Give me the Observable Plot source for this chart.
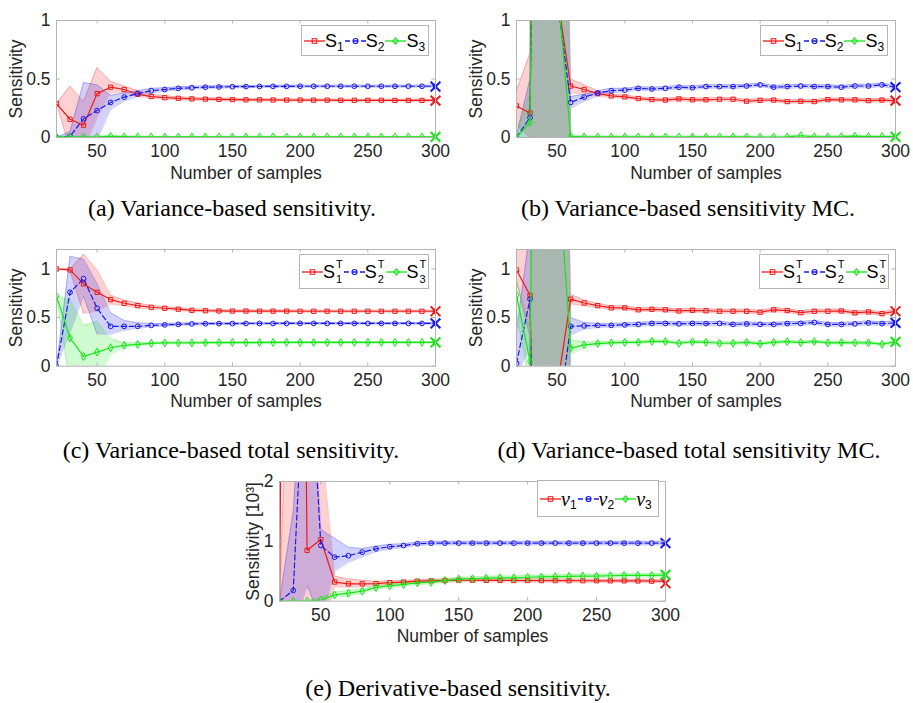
<!DOCTYPE html>
<html><head><meta charset="utf-8">
<script src="https://cdn.jsdelivr.net/npm/d3@7"></script>
<script src="https://cdn.jsdelivr.net/npm/@observablehq/plot@0.6"></script>
<style>
body{margin:0;background:#fff;}
#fig{position:relative;width:913px;height:703px;overflow:hidden;font-family:"Liberation Sans",Arial,sans-serif;}
.pl{position:absolute;}
.cap{position:absolute;width:500px;font-family:"Liberation Serif","Times New Roman",serif;font-size:24px;color:#000;text-align:center;white-space:nowrap;line-height:26px;}
.leg{position:absolute;border:1px solid #b5b5b5;background:#fff;display:flex;align-items:center;padding:0 2px;box-sizing:border-box;color:#000;}
.leg .it{display:flex;align-items:center;margin-right:1px;}
.leg .lbl{font-size:18px;line-height:18px;white-space:nowrap;display:inline-flex;align-items:center;}
.leg sub{font-size:12px;position:relative;top:6px;line-height:12px;}
.leg .ss{display:inline-flex;flex-direction:column;font-size:11px;line-height:15px;margin-left:1px;}
.leg .nu{font-family:"Liberation Serif",serif;font-style:italic;font-size:20px;}
</style></head>
<body><div id="fig"></div>
<script>
const xs = [20,30,40,50,60,70,80,90,100,110,120,130,140,150,160,170,180,190,200,210,220,230,240,250,260,270,280,290,300];
const xTicks = [50,100,150,200,250,300];
const yTicksA = [0,0.5,1];
const yTicksC = [0,0.5,1];
const yTicksE = [0,1,2];

// (a) variance-based sensitivity
const A_S1    = [0.29,0.156,0.105,0.375,0.43,0.41,0.37,0.35,0.34,0.335,0.33,0.328,0.326,0.324,0.322,0.322,0.321,0.32,0.32,0.319,0.319,0.318,0.318,0.318,0.318,0.317,0.317,0.317,0.317];
const A_S1_lo = [0.29,-0.1,-0.1,0.17,0.38,0.385,0.35,0.335,0.327,0.323,0.319,0.317,0.316,0.315,0.313,0.313,0.312,0.311,0.311,0.31,0.31,0.31,0.31,0.31,0.31,0.309,0.309,0.309,0.309];
const A_S1_hi = [0.29,0.44,0.31,0.6,0.48,0.44,0.4,0.37,0.355,0.348,0.342,0.34,0.337,0.334,0.332,0.331,0.33,0.329,0.329,0.328,0.328,0.327,0.327,0.327,0.326,0.326,0.326,0.326,0.326];
const A_S2    = [0.0,0.01,0.16,0.23,0.30,0.345,0.375,0.40,0.41,0.42,0.425,0.43,0.432,0.434,0.435,0.436,0.437,0.437,0.438,0.438,0.438,0.438,0.438,0.438,0.438,0.438,0.438,0.438,0.438];
const A_S2_lo = [0,0,-0.05,-0.02,0.24,0.31,0.35,0.38,0.395,0.406,0.413,0.419,0.422,0.424,0.426,0.427,0.428,0.428,0.429,0.429,0.429,0.429,0.429,0.429,0.429,0.429,0.429,0.429,0.429];
const A_S2_hi = [0,0.05,0.47,0.45,0.36,0.38,0.40,0.42,0.425,0.434,0.437,0.441,0.442,0.444,0.444,0.445,0.446,0.446,0.447,0.447,0.447,0.447,0.447,0.447,0.447,0.447,0.447,0.447,0.447];
const A_S3    = [0.005,0.006,0.004,0.005,0.01,0.007,0.006,0.005,0.005,0.005,0.005,0.005,0.005,0.005,0.005,0.005,0.005,0.005,0.005,0.005,0.005,0.005,0.005,0.005,0.005,0.005,0.005,0.005,0.005];
const A_S3_lo = [0,0,-0.002,-0.002,0.003,0.001,0,0,0,0,0,0,0,0,0,0,0,0,0,0,0,0,0,0,0,0,0,0,0];
const A_S3_hi = [0.01,0.012,0.01,0.012,0.017,0.013,0.012,0.01,0.01,0.01,0.01,0.01,0.01,0.01,0.01,0.01,0.01,0.01,0.01,0.01,0.01,0.01,0.01,0.01,0.01,0.01,0.01,0.01,0.01];
const A_ref = [0.315,0.435,0.005];

// (b) variance-based sensitivity MC
const B_S1    = [0.27,0.21,11,1.22,0.44,0.41,0.375,0.355,0.347,0.333,0.324,0.32,0.33,0.322,0.322,0.327,0.327,0.31,0.318,0.32,0.307,0.31,0.307,0.324,0.322,0.322,0.315,0.32,0.312];
const B_S1_lo = [0.1,0.0,-15,-5,0.38,0.375,0.355,0.34,0.333,0.318,0.31,0.305,0.315,0.307,0.308,0.312,0.313,0.296,0.303,0.305,0.292,0.296,0.293,0.31,0.307,0.307,0.301,0.305,0.297];
const B_S1_hi = [0.4,0.72,20,6,0.5,0.45,0.4,0.37,0.362,0.348,0.338,0.335,0.345,0.337,0.337,0.342,0.342,0.324,0.333,0.334,0.322,0.325,0.322,0.338,0.336,0.337,0.33,0.335,0.327];
const B_S2    = [0.0,0.17,10,1.18,0.30,0.345,0.38,0.40,0.405,0.42,0.415,0.42,0.43,0.425,0.435,0.435,0.435,0.44,0.45,0.43,0.435,0.44,0.435,0.435,0.43,0.44,0.44,0.45,0.43];
const B_S2_lo = [-0.02,0.0,-15,-5,0.25,0.31,0.355,0.38,0.39,0.405,0.4,0.405,0.415,0.41,0.42,0.42,0.42,0.425,0.435,0.415,0.42,0.425,0.42,0.42,0.415,0.425,0.425,0.435,0.415];
const B_S2_hi = [0.02,0.5,20,6,0.35,0.37,0.4,0.42,0.42,0.435,0.43,0.435,0.445,0.44,0.45,0.45,0.45,0.455,0.465,0.445,0.45,0.455,0.45,0.45,0.445,0.455,0.455,0.465,0.445];
const B_S3    = [0.0,0.13,11,1.31,0.01,0.006,0.005,0.005,0.006,0.005,0.005,0.005,0.004,0.005,0.005,0.005,0.005,0.005,0.004,0.004,0.005,0.015,0.006,0.006,0.007,0.012,0.008,0.008,0.007];
const B_S3_lo = [-0.02,0.0,-15,-5,0.002,-0.002,-0.003,-0.003,-0.002,-0.003,-0.003,-0.003,-0.004,-0.003,-0.003,-0.003,-0.003,-0.003,-0.004,-0.004,-0.003,0.007,-0.002,-0.002,-0.001,0.004,0,0,-0.001];
const B_S3_hi = [0.02,0.4,20,6,0.018,0.014,0.013,0.013,0.014,0.013,0.013,0.013,0.012,0.013,0.013,0.013,0.013,0.013,0.012,0.012,0.013,0.023,0.014,0.014,0.015,0.02,0.016,0.016,0.015];
const B_ref = [0.315,0.43,0.005];

// (c) variance-based total sensitivity
const C_S1    = [1.0,0.99,0.846,0.76,0.685,0.647,0.623,0.606,0.596,0.586,0.575,0.57,0.568,0.567,0.567,0.566,0.566,0.566,0.565,0.565,0.565,0.565,0.565,0.565,0.565,0.565,0.565,0.565,0.565];
const C_S1_lo = [1.0,0.98,0.54,0.57,0.64,0.62,0.6,0.59,0.582,0.573,0.563,0.558,0.556,0.555,0.555,0.555,0.555,0.555,0.554,0.554,0.554,0.554,0.554,0.554,0.554,0.554,0.554,0.554,0.554];
const C_S1_hi = [1.0,1.0,1.15,0.99,0.73,0.68,0.65,0.625,0.612,0.6,0.588,0.582,0.58,0.579,0.578,0.577,0.577,0.577,0.576,0.576,0.576,0.576,0.576,0.576,0.576,0.576,0.576,0.576,0.576];
const C_S2    = [0.0,0.76,0.9,0.595,0.41,0.41,0.41,0.42,0.425,0.43,0.435,0.437,0.438,0.438,0.439,0.439,0.439,0.44,0.44,0.44,0.44,0.44,0.44,0.44,0.44,0.44,0.44,0.44,0.44];
const C_S2_lo = [0.0,0.35,0.72,0.33,0.33,0.37,0.39,0.405,0.412,0.418,0.424,0.427,0.428,0.429,0.43,0.43,0.43,0.431,0.431,0.431,0.431,0.431,0.431,0.431,0.431,0.431,0.431,0.431,0.431];
const C_S2_hi = [0.0,1.13,1.1,0.85,0.55,0.47,0.445,0.44,0.44,0.443,0.446,0.447,0.448,0.448,0.449,0.449,0.449,0.449,0.449,0.449,0.449,0.449,0.449,0.449,0.449,0.449,0.449,0.449,0.449];
const C_S3    = [0.72,0.29,0.10,0.145,0.19,0.215,0.225,0.235,0.24,0.24,0.24,0.242,0.242,0.243,0.243,0.243,0.244,0.244,0.244,0.244,0.244,0.244,0.244,0.245,0.245,0.245,0.245,0.245,0.245];
const C_S3_lo = [0.72,-0.18,-0.2,-0.15,0.12,0.19,0.21,0.225,0.23,0.23,0.23,0.232,0.232,0.233,0.233,0.233,0.234,0.234,0.234,0.234,0.234,0.234,0.234,0.235,0.235,0.235,0.235,0.235,0.235];
const C_S3_hi = [0.72,0.68,0.42,0.46,0.28,0.24,0.24,0.245,0.25,0.25,0.25,0.252,0.252,0.253,0.253,0.253,0.254,0.254,0.254,0.254,0.254,0.254,0.254,0.255,0.255,0.255,0.255,0.255,0.255];
const C_ref = [0.565,0.44,0.245];

// (d) variance-based total sensitivity MC
const D_S1    = [0.99,0.73,-8,-0.22,0.69,0.65,0.623,0.60,0.60,0.58,0.585,0.58,0.568,0.575,0.57,0.565,0.565,0.565,0.555,0.58,0.572,0.55,0.565,0.565,0.568,0.548,0.558,0.54,0.565];
const D_S1_lo = [0.88,0.3,-20,-8,0.64,0.62,0.6,0.58,0.58,0.56,0.565,0.56,0.548,0.555,0.55,0.545,0.545,0.545,0.535,0.56,0.552,0.53,0.545,0.545,0.548,0.528,0.538,0.52,0.545];
const D_S1_hi = [1.3,1.4,20,8,0.74,0.68,0.645,0.62,0.62,0.6,0.605,0.6,0.588,0.595,0.59,0.585,0.585,0.585,0.575,0.6,0.592,0.57,0.585,0.585,0.588,0.568,0.578,0.56,0.585];
const D_S2    = [0.03,0.69,-8,-0.62,0.41,0.415,0.42,0.42,0.425,0.43,0.44,0.44,0.435,0.44,0.438,0.44,0.43,0.435,0.43,0.43,0.438,0.44,0.45,0.43,0.43,0.435,0.445,0.438,0.445];
const D_S2_lo = [-0.1,0.2,-20,-8,0.32,0.38,0.4,0.4,0.405,0.41,0.42,0.42,0.415,0.42,0.418,0.42,0.41,0.415,0.41,0.41,0.418,0.42,0.43,0.41,0.41,0.415,0.425,0.418,0.425];
const D_S2_hi = [0.35,1.4,20,8,0.5,0.45,0.44,0.44,0.445,0.45,0.46,0.46,0.455,0.46,0.458,0.46,0.45,0.455,0.45,0.45,0.458,0.46,0.47,0.45,0.45,0.455,0.465,0.458,0.465];
const D_S3    = [0.73,0.05,12,2.2,0.185,0.22,0.233,0.24,0.245,0.245,0.256,0.253,0.236,0.25,0.246,0.236,0.236,0.245,0.23,0.245,0.253,0.243,0.253,0.24,0.243,0.24,0.24,0.226,0.25];
const D_S3_lo = [0.55,-0.2,-20,-8,0.12,0.19,0.215,0.225,0.23,0.23,0.24,0.238,0.221,0.235,0.231,0.221,0.221,0.23,0.215,0.23,0.238,0.228,0.238,0.225,0.228,0.225,0.225,0.211,0.235];
const D_S3_hi = [0.88,0.4,20,8,0.27,0.25,0.25,0.255,0.26,0.26,0.271,0.268,0.251,0.265,0.261,0.251,0.251,0.26,0.245,0.26,0.268,0.258,0.268,0.255,0.258,0.255,0.255,0.241,0.265];
const D_ref = [0.565,0.445,0.25];

// (e) derivative-based sensitivity [10^3]
const E_N1    = [0.0,25,0.85,1.03,0.32,0.29,0.29,0.295,0.31,0.32,0.335,0.34,0.345,0.35,0.35,0.348,0.347,0.346,0.345,0.345,0.344,0.343,0.342,0.341,0.34,0.34,0.338,0.335,0.335];
const E_N1_lo = [0.0,-5,-2,-0.5,0.24,0.23,0.24,0.26,0.28,0.295,0.31,0.315,0.32,0.325,0.325,0.323,0.322,0.321,0.32,0.32,0.319,0.318,0.317,0.316,0.315,0.315,0.313,0.31,0.31];
const E_N1_hi = [0.0,6.7,8,2.74,0.42,0.37,0.35,0.33,0.34,0.345,0.36,0.365,0.37,0.375,0.375,0.373,0.372,0.371,0.37,0.37,0.369,0.368,0.367,0.366,0.365,0.365,0.363,0.36,0.36];
const E_N2    = [0.0,0.18,5,0.93,0.735,0.76,0.82,0.875,0.91,0.93,0.96,0.97,0.97,0.97,0.97,0.97,0.97,0.97,0.97,0.97,0.97,0.97,0.97,0.97,0.97,0.97,0.97,0.97,0.97];
const E_N2_lo = [0.0,-0.5,0.26,-0.3,0.5,0.65,0.74,0.83,0.87,0.9,0.93,0.94,0.94,0.94,0.94,0.94,0.94,0.94,0.94,0.94,0.94,0.94,0.94,0.94,0.94,0.94,0.94,0.94,0.94];
const E_N2_hi = [0.0,1.5,5.2,1.2,1.05,0.9,0.88,0.92,0.95,0.96,0.99,1.0,1.0,1.0,1.0,1.0,1.0,1.0,1.0,1.0,1.0,1.0,1.0,1.0,1.0,1.0,1.0,1.0,1.0];
const E_N3    = [0.0,0.0,0.0,0.02,0.105,0.134,0.167,0.23,0.256,0.28,0.306,0.318,0.345,0.37,0.375,0.385,0.39,0.39,0.4,0.405,0.41,0.415,0.42,0.42,0.425,0.43,0.43,0.43,0.435];
const E_N3_lo = [0,0,-0.01,-0.01,0.06,0.09,0.13,0.2,0.225,0.25,0.275,0.29,0.315,0.34,0.345,0.355,0.36,0.36,0.37,0.375,0.38,0.385,0.39,0.39,0.395,0.4,0.4,0.4,0.405];
const E_N3_hi = [0,0.01,0.01,0.06,0.15,0.18,0.2,0.26,0.287,0.31,0.337,0.348,0.375,0.4,0.405,0.415,0.42,0.42,0.43,0.435,0.44,0.445,0.45,0.45,0.455,0.46,0.46,0.46,0.465];
const E_ref = [0.3,0.97,0.44];

const RED = "#f01818", BLUE = "#1818f0", GREEN = "#14e614";
const GRAY = "#b3b3b3";
const FS = 17.5;
const styles = [
  {color: RED, symbol: "square", dash: null},
  {color: BLUE, symbol: "circle", dash: "5,3"},
  {color: GREEN, symbol: "diamond", dash: null}
];

function panel(cfg) {
  const [y0, y1] = cfg.yDomain;
  const ser = cfg.series.map((s, k) => ({...styles[k], ref: cfg.refs[k],
    rows: xs.map((x, i) => ({x, v: s[0][i], lo: s[1][i], hi: s[2][i]}))}));
  const marks = [];
  ser.forEach(s => marks.push(Plot.areaY(s.rows, {x: "x", y1: "lo", y2: "hi", fill: s.color, fillOpacity: 0.2, clip: true})));
  ser.forEach(s => {
    marks.push(Plot.line(s.rows, {x: "x", y: "lo", stroke: s.color, strokeOpacity: 0.3, strokeWidth: 0.8, clip: true}));
    marks.push(Plot.line(s.rows, {x: "x", y: "hi", stroke: s.color, strokeOpacity: 0.3, strokeWidth: 0.8, clip: true}));
  });
  ser.forEach(s => {
    marks.push(Plot.line(s.rows, {x: "x", y: "v", stroke: s.color, strokeWidth: 1.2, strokeDasharray: s.dash, clip: true}));
    marks.push(Plot.dot(s.rows, {x: "x", y: "v", symbol: s.symbol, r: 2.4, stroke: s.color, strokeWidth: 1, fill: "none", clip: true}));
  });
  ser.forEach(s => marks.push(Plot.dot([{x: 300, y: s.ref}], {x: "x", y: "y", symbol: "times", r: 4.5, stroke: s.color, strokeWidth: 2})));
  const tx = 0.03 * (y1 - y0), ty = 0.01 * 280;
  marks.push(Plot.ruleX(xTicks, {x: d => d, y1: y0, y2: y0 + tx, stroke: GRAY}));
  marks.push(Plot.ruleX(xTicks, {x: d => d, y1: y1 - tx, y2: y1, stroke: GRAY}));
  marks.push(Plot.ruleY(cfg.yTicks, {y: d => d, x1: 20, x2: 20 + ty, stroke: GRAY}));
  marks.push(Plot.ruleY(cfg.yTicks, {y: d => d, x1: 300 - ty, x2: 300, stroke: GRAY}));
  marks.push(Plot.frame({stroke: GRAY}));
  marks.push(Plot.axisX({ticks: xTicks, tickSize: 0, tickPadding: 7, fontSize: FS, label: "Number of samples",
    labelAnchor: "center", labelOffset: 41, labelArrow: "none"}));
  marks.push(Plot.axisY({ticks: cfg.yTicks, tickFormat: d => String(d), tickSize: 0, tickPadding: 6, fontSize: FS,
    label: cfg.ylabel, labelAnchor: "center", labelOffset: cfg.ylabelOffset, labelArrow: "none"}));
  const svg = Plot.plot({
    width: cfg.width, height: cfg.height,
    marginLeft: cfg.ml, marginRight: cfg.mr, marginTop: cfg.mt, marginBottom: cfg.mb,
    x: {domain: [20, 300]}, y: {domain: cfg.yDomain},
    style: {fontFamily: "'Liberation Sans', Arial, sans-serif", fontSize: FS + "px", color: "#262626", background: "transparent", overflow: "visible"},
    marks
  });
  svg.classList.add("pl");
  svg.style.left = cfg.left + "px";
  svg.style.top = cfg.top + "px";
  return svg;
}

function swatch(st) {
  const dash = st.dash ? ` stroke-dasharray="${st.dash}"` : "";
  let m;
  if (st.symbol === "square") m = `<rect x="8.2" y="4.7" width="4.6" height="4.6" fill="none" stroke="${st.color}" stroke-width="1"/>`;
  else if (st.symbol === "circle") m = `<circle cx="10.5" cy="7" r="2.5" fill="none" stroke="${st.color}" stroke-width="1.2"/>`;
  else m = `<path d="M10.5,3.8L13.2,7L10.5,10.2L7.8,7Z" fill="none" stroke="${st.color}" stroke-width="1.1"/>`;
  return `<svg width="21" height="14" style="display:block"><line x1="0" y1="7" x2="21" y2="7" stroke="${st.color}" stroke-width="1.3"${dash}/>${m}</svg>`;
}

function legend(fig, left, top, w, h, labels) {
  const d = document.createElement("div");
  d.className = "leg";
  d.style.left = left + "px"; d.style.top = top + "px";
  d.style.width = w + "px"; d.style.height = h + "px";
  d.innerHTML = labels.map((lab, k) => `<div class="it">${swatch(styles[k])}<span class="lbl">${lab}</span></div>`).join("");
  fig.appendChild(d);
}

function caption(fig, cx, cy, text) {
  const d = document.createElement("div");
  d.className = "cap";
  d.style.left = (cx - 250) + "px";
  d.style.top = (cy - 13) + "px";
  d.textContent = text;
  fig.appendChild(d);
}

const fig = document.getElementById("fig");
const common = {width: 455, height: 190, ml: 56, mr: 20, mt: 20, yTicks: yTicksA, ylabel: "Sensitivity", ylabelOffset: 47};

fig.appendChild(panel({...common, left: 0, top: 0, mb: 53, yDomain: [0, 1], refs: A_ref,
  series: [[A_S1, A_S1_lo, A_S1_hi], [A_S2, A_S2_lo, A_S2_hi], [A_S3, A_S3_lo, A_S3_hi]]}));
fig.appendChild(panel({...common, left: 460, top: 0, mb: 53, yDomain: [0, 1], refs: B_ref,
  series: [[B_S1, B_S1_lo, B_S1_hi], [B_S2, B_S2_lo, B_S2_hi], [B_S3, B_S3_lo, B_S3_hi]]}));
fig.appendChild(panel({...common, left: 0, top: 229, mt: 20, mb: 53.3, yDomain: [0, 1.2], yTicks: yTicksC, refs: C_ref,
  series: [[C_S1, C_S1_lo, C_S1_hi], [C_S2, C_S2_lo, C_S2_hi], [C_S3, C_S3_lo, C_S3_hi]]}));
fig.appendChild(panel({...common, left: 460, top: 229, mt: 20, mb: 53.3, yDomain: [0, 1.2], yTicks: yTicksC, refs: D_ref,
  series: [[D_S1, D_S1_lo, D_S1_hi], [D_S2, D_S2_lo, D_S2_hi], [D_S3, D_S3_lo, D_S3_hi]]}));
fig.appendChild(panel({width: 462, height: 190, ml: 56, mr: 20, mt: 20, mb: 50.3, left: 223, top: 461,
  yDomain: [0, 2], yTicks: yTicksE, ylabel: "Sensitivity [10³]", ylabelOffset: 33, refs: E_ref,
  series: [[E_N1, E_N1_lo, E_N1_hi], [E_N2, E_N2_lo, E_N2_hi], [E_N3, E_N3_lo, E_N3_hi]]}));

const labS = ["S<sub>1</sub>", "S<sub>2</sub>", "S<sub>3</sub>"];
const labT = [1, 2, 3].map(i => `S<span class="ss"><span>T</span><span>${i}</span></span>`);
const labN = [1, 2, 3].map(i => `<span class="nu">ν</span><sub>${i}</sub>`);
legend(fig, 301, 25, 128, 31, labS);
legend(fig, 760, 25, 128, 31, labS);
legend(fig, 299, 254, 130, 35, labT);
legend(fig, 759, 254, 130, 35, labT);
legend(fig, 537, 480, 122, 37, labN);

caption(fig, 232, 208, "(a) Variance-based sensitivity.");
caption(fig, 688, 208, "(b) Variance-based sensitivity MC.");
caption(fig, 231, 450, "(c) Variance-based total sensitivity.");
caption(fig, 689, 450, "(d) Variance-based total sensitivity MC.");
caption(fig, 458, 688, "(e) Derivative-based sensitivity.");
</script>
</body></html>
